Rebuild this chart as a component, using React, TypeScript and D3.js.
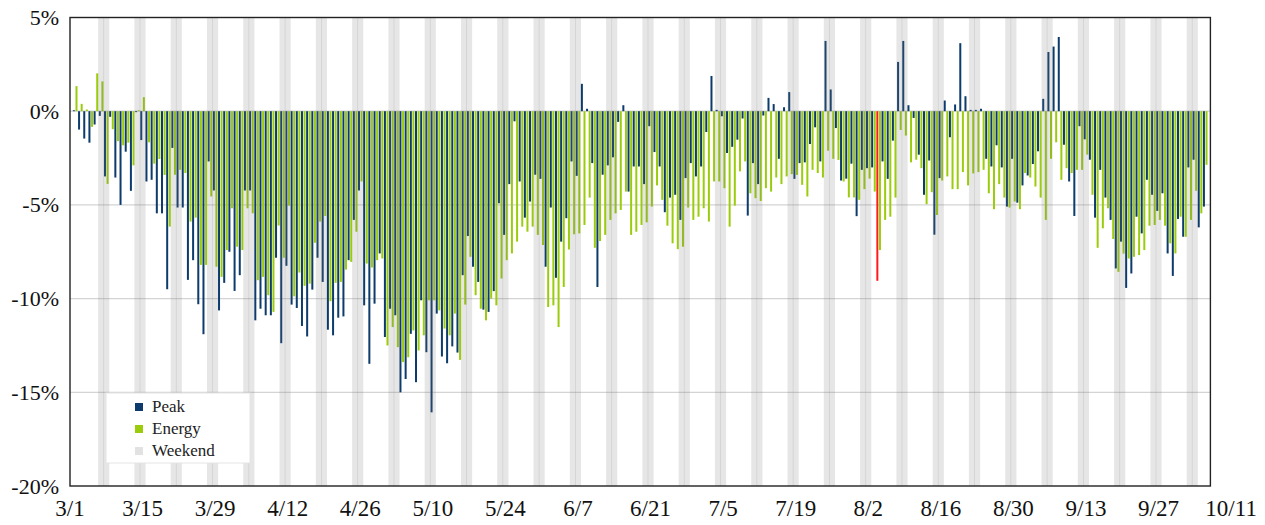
import React, { useEffect, useRef } from 'react';
import * as d3 from 'd3';

// daily change vs. baseline (%), first bar is 3/2
const firstDay = '2020-03-02';

const peak = [
  0.05, -0.98, -1.46, -1.68, -0.71, -0.25, -3.48, -0.3, -3.54, -5.0,
  -2.16, -4.25, -0.05, -1.54, -3.75, -3.66, -5.45, -5.45, -9.5, -1.96,
  -5.14, -5.14, -9.0, -7.95, -10.3, -11.9, -2.68, -4.23, -10.63, -9.16,
  -7.5, -9.59, -8.75, -4.23, -4.23, -11.16, -10.54, -10.89, -10.89, -7.82,
  -12.38, -8.25, -10.32, -10.5, -11.46, -12.02, -9.52, -7.82, -9.11, -11.66,
  -11.96, -11.02, -10.95, -7.95, -5.8, -4.23, -10.36, -13.48, -10.27, -7.59,
  -12.05, -10.54, -10.89, -15.0, -14.29, -11.88, -14.46, -10.09, -12.86, -16.07,
  -10.8, -13.09, -13.45, -12.55, -12.88, -8.75, -6.66, -8.3, -9.11, -10.59,
  -10.71, -9.6, -4.91, -6.6, -3.89, -0.54, -3.75, -5.68, -4.82, -3.39,
  -3.61, -8.3, -5.14, -8.89, -6.96, -5.71, -2.68, -3.45, 1.46, 0.13,
  -2.77, -9.38, -3.39, -2.89, -2.46, -0.57, 0.32, -4.29, -2.95, -2.95,
  -3.89, -0.8, -2.18, -2.95, -5.39, -4.61, -4.46, -5.8, -3.57, -2.77,
  -3.48, -2.95, -1.11, 1.88, 0.07, -0.27, -2.23, -1.9, -1.52, -0.39,
  -5.57, -2.77, -3.89, -0.23, 0.71, 0.38, -2.54, 0.21, 1.02, -3.61,
  -2.77, -2.73, -1.75, -0.86, -2.68, 3.75, 1.16, -0.9, -3.7, -3.6,
  -2.8, -5.6, -3.13, -3.04, -3.0, -9.05, -2.68, -3.61, -1.57, 2.63,
  3.75, 0.32, -0.36, -2.32, -4.46, -2.63, -6.59, -3.57, 0.57, -1.39,
  0.36, 3.63, 0.8, 0.07, 0.07, 0.13, -2.54, -2.95, -1.82, -3.0,
  -5.09, -2.54, -4.88, -3.96, -3.43, -2.82, -2.14, 0.66, 3.16, 3.45,
  3.96, -1.79, -3.75, -5.59, -0.8, -1.5, -2.59, -5.68, -3.13, -4.61,
  -5.8, -8.39, -6.96, -9.43, -8.66, -5.63, -6.52, -3.66, -4.46, -5.32,
  -4.38, -7.59, -8.79, -5.75, -6.7, -3.0, -2.59, -6.2, -5.09,
];

const energy = [
  1.34, 0.39, 0.09, -0.84, 2.02, 1.59, -3.88, -0.96, -1.6, -1.82,
  -1.68, -2.89, 0.05, 0.75, -1.66, -2.8, -2.55, -3.4, -6.16, -3.39,
  -3.13, -3.3, -5.89, -5.68, -8.2, -8.2, -4.55, -8.3, -8.84, -7.41,
  -5.18, -7.23, -7.41, -5.18, -5.45, -9.02, -8.84, -9.82, -10.71, -6.1,
  -7.82, -5.04, -9.88, -8.61, -9.32, -9.2, -7.02, -5.89, -5.59, -10.14,
  -9.16, -9.11, -8.45, -8.04, -6.43, -3.75, -8.13, -8.34, -7.95, -7.86,
  -12.5, -11.52, -12.59, -13.39, -13.13, -11.7, -12.77, -11.96, -10.09, -10.09,
  -10.63, -11.6, -11.96, -10.8, -13.27, -10.32, -7.77, -9.82, -10.54, -11.16,
  -10.0, -10.36, -8.93, -7.95, -7.59, -6.96, -6.16, -6.43, -6.16, -6.6,
  -7.14, -10.45, -10.36, -11.52, -9.38, -7.38, -6.57, -6.52, -6.07, -4.61,
  -7.29, -6.93, -6.6, -5.8, -5.45, -5.27, -4.29, -6.6, -6.43, -6.07,
  -5.93, -5.09, -3.96, -4.73, -6.11, -7.05, -7.36, -7.23, -5.14, -5.8,
  -5.63, -5.18, -5.89, -3.75, -3.75, -4.11, -6.16, -5.04, -3.21, -2.68,
  -4.38, -4.64, -4.79, -4.11, -4.29, -3.54, -3.89, -3.48, -3.36, -3.4,
  -3.93, -4.55, -3.13, -3.3, -3.54, -2.11, -2.54, -2.6, -3.75, -4.6,
  -4.6, -4.73, -4.16, -3.6, -4.29, -7.41, -5.8, -5.63, -4.61, -1.0,
  -1.3, -2.73, -2.59, -3.04, -4.96, -4.32, -5.54, -3.7, -3.48, -4.16,
  -4.16, -3.25, -3.96, -3.32, -3.25, -3.13, -4.38, -5.23, -3.89, -4.61,
  -5.14, -4.82, -5.23, -3.3, -3.54, -4.02, -4.61, -5.8, -2.54, -1.66,
  -3.66, -3.04, -3.3, -3.13, -3.13, -2.32, -4.46, -7.29, -6.25, -5.18,
  -6.82, -8.57, -7.6, -7.86, -7.77, -7.68, -7.41, -6.11, -6.07, -5.8,
  -6.11, -7.05, -7.59, -5.63, -6.7, -5.8, -4.25, -5.45, -2.86,
];

// storm outage day, drawn in red
const highlightDays = ['2020-08-04'];

const yTicks = [5, 0, -5, -10, -15, -20];
const xTickDays = [
  '2020-03-01', '2020-03-15', '2020-03-29', '2020-04-12', '2020-04-26', '2020-05-10',
  '2020-05-24', '2020-06-07', '2020-06-21', '2020-07-05', '2020-07-19', '2020-08-02',
  '2020-08-16', '2020-08-30', '2020-09-13', '2020-09-27', '2020-10-11',
];

const legendItems = [
  { label: 'Peak', color: '#0c3b6c' },
  { label: 'Energy', color: '#9bcc0c' },
  { label: 'Weekend', color: '#e2e2e2' },
];

const parse = d3.utcParse('%Y-%m-%d');
const fmt = d3.utcFormat('%-m/%-d');

export default function App() {
  const svgRef = useRef<SVGSVGElement>(null);

  useEffect(() => {
    if (!svgRef.current) return;
    const svg = d3.select(svgRef.current);
    svg.selectAll('*').remove();

    const width = 1265;
    const height = 525;
    const plot = { left: 70, right: 1210.4, top: 17.5, bottom: 486 };
    const font = '"Liberation Serif", "Times New Roman", serif';

    const start = parse(firstDay)!;
    const days = peak.map((_, i) => d3.utcDay.offset(start, i));

    const x = d3.scaleUtc()
      .domain([d3.utcDay.offset(start, -1), d3.utcDay.offset(start, 219)])
      .range([plot.left, plot.right]);
    const y = d3.scaleLinear().domain([-20, 5]).range([plot.bottom, plot.top]);
    const dayW = x(d3.utcDay.offset(start, 1)) - x(start);

    svg.attr('width', width).attr('height', height);

    svg.append('clipPath').attr('id', 'plot-clip')
      .append('rect')
      .attr('x', plot.left).attr('y', plot.top)
      .attr('width', plot.right - plot.left).attr('height', plot.bottom - plot.top);

    const g = svg.append('g').attr('clip-path', 'url(#plot-clip)');

    // Grid
    g.append('g')
      .selectAll('line')
      .data(yTicks.filter(t => t > -20 && t < 5))
      .join('line')
      .attr('x1', plot.left).attr('x2', plot.right)
      .attr('y1', d => y(d)).attr('y2', d => y(d))
      .attr('stroke', '#d4d4d4')
      .attr('stroke-width', 1.2);

    const highlight = new Set(highlightDays);

    // Peak bars
    g.append('g')
      .selectAll('rect')
      .data(days)
      .join('rect')
      .attr('x', d => x(d) - 2.3)
      .attr('width', 2)
      .attr('y', (d, i) => Math.min(y(peak[i]), y(0)))
      .attr('height', (d, i) => Math.abs(y(peak[i]) - y(0)))
      .attr('fill', d => highlight.has(d3.utcFormat('%Y-%m-%d')(d)) ? '#ff1a1a' : '#0c3b6c');

    // Energy bars
    g.append('g')
      .selectAll('rect')
      .data(days)
      .join('rect')
      .attr('x', d => x(d) + 0.3)
      .attr('width', 2)
      .attr('y', (d, i) => Math.min(y(energy[i]), y(0)))
      .attr('height', (d, i) => Math.abs(y(energy[i]) - y(0)))
      .attr('fill', '#9bcc0c');

    // Weekend bands (on top, light)
    g.append('g')
      .selectAll('rect')
      .data(days.filter(d => d.getUTCDay() === 0 || d.getUTCDay() === 6))
      .join('rect')
      .attr('x', d => x(d) - dayW / 2 - 0.4)
      .attr('width', dayW + 0.8)
      .attr('y', plot.top)
      .attr('height', plot.bottom - plot.top)
      .attr('fill', '#7a7a7a')
      .attr('fill-opacity', 0.19);

    // Frame
    svg.append('rect')
      .attr('x', plot.left).attr('y', plot.top)
      .attr('width', plot.right - plot.left).attr('height', plot.bottom - plot.top)
      .attr('fill', 'none')
      .attr('stroke', '#222')
      .attr('stroke-width', 1.4);

    // Y labels
    svg.append('g')
      .selectAll('text')
      .data(yTicks)
      .join('text')
      .attr('x', 59)
      .attr('y', d => y(d) + 7.5)
      .attr('text-anchor', 'end')
      .style('font-family', font)
      .style('font-size', '22px')
      .attr('fill', '#111')
      .text(d => `${d}%`);

    // X labels
    svg.append('g')
      .selectAll('text')
      .data(xTickDays.map(s => parse(s)!))
      .join('text')
      .attr('x', d => x(d))
      .attr('y', 516)
      .attr('text-anchor', 'middle')
      .style('font-family', font)
      .style('font-size', '23px')
      .attr('fill', '#111')
      .text(d => fmt(d));

    // Legend
    const lg = svg.append('g').attr('transform', 'translate(106,393)');
    lg.append('rect')
      .attr('width', 144).attr('height', 70)
      .attr('fill', '#fff')
      .attr('stroke', '#e4e4e4');
    legendItems.forEach((item, i) => {
      lg.append('rect')
        .attr('x', 29).attr('y', 10 + i * 22)
        .attr('width', 8).attr('height', 8)
        .attr('fill', item.color);
      lg.append('text')
        .attr('x', 46).attr('y', 19 + i * 22)
        .style('font-family', font)
        .style('font-size', '17px')
        .attr('fill', '#222')
        .text(item.label);
    });
  }, []);

  return (
    <svg ref={svgRef} style={{ position: 'absolute', left: 0, top: 0 }}></svg>
  );
}
